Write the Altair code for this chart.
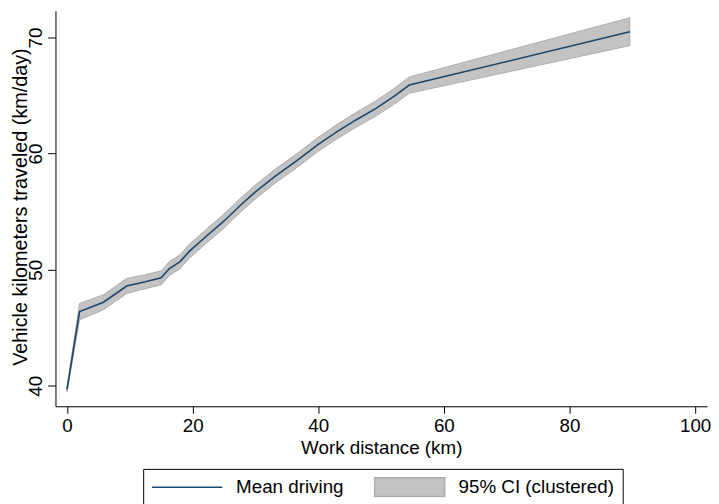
import altair as alt
import pandas as pd

# Work distance (km)
dist = [0, 2, 5.8, 9.5, 12.3, 15, 16.3, 18, 19.5, 22, 25, 27.7, 30, 33, 36.6,
        40, 43, 46, 49.2, 52, 54.5, 89.6]
# Mean driving (km/day)
mean_vkt = [39.7, 46.4, 47.2, 48.6, 48.95, 49.3, 50.1, 50.7, 51.6, 52.8, 54.2,
            55.6, 56.7, 58.0, 59.4, 60.8, 61.9, 62.9, 63.9, 64.9, 65.9, 70.5]
# 95% CI half-width
ci_half = [0.25, 0.7, 0.65, 0.65, 0.6, 0.6, 0.6, 0.6, 0.6, 0.6, 0.6,
           0.6, 0.6, 0.6, 0.6, 0.6, 0.62, 0.64, 0.66, 0.68, 0.7, 1.2]

series_names = ["Mean driving", "95% CI (clustered)"]
x_ticks = [0, 20, 40, 60, 80, 100]
y_ticks = [40, 50, 60, 70]

df = pd.DataFrame({
    "dist": dist,
    "vkt": mean_vkt,
    "lo": [m - h for m, h in zip(mean_vkt, ci_half)],
    "hi": [m + h for m, h in zip(mean_vkt, ci_half)],
})
legend_df = pd.DataFrame({"series": series_names, "dist": [None, None], "vkt": [None, None]})

FONT = "Liberation Sans"
NAVY = "#1a476f"

x_scale = alt.Scale(domain=[-1.84, 101.9], nice=False, zero=False)
y_scale = alt.Scale(domain=[38.24, 72.30], nice=False, zero=False)

x_axis = alt.Axis(values=x_ticks, title="Work distance (km)", grid=False,
                  tickSize=7, labelPadding=18, labelBaseline="alphabetic",
                  titleY=48, titleBaseline="alphabetic", titleFontSize=19)
y_axis = alt.Axis(values=y_ticks, title="Vehicle kilometers traveled (km/day)", grid=False,
                  tickSize=8, labelPadding=6, labelAngle=-90, labelAlign="center",
                  labelBaseline="alphabetic", titleAngle=-90, titleX=-29.5, titleY=198,
                  titleAlign="center", titleBaseline="alphabetic", titleFontSize=20)

band = alt.Chart(df).mark_area(color="#c3c3c3", stroke="#adadad", strokeWidth=1).encode(
    x=alt.X("dist:Q", scale=x_scale, axis=x_axis),
    y=alt.Y("lo:Q", scale=y_scale, axis=y_axis),
    y2="hi:Q",
)

line = alt.Chart(df).mark_line(color=NAVY, strokeWidth=1.6).encode(
    x=alt.X("dist:Q", scale=x_scale),
    y=alt.Y("vkt:Q", scale=y_scale),
)

line_path = "M-1,0H1"
rect_path = "M-1,-0.268H1V0.268H-1Z"

legend = alt.Legend(orient="none", legendX=88.7, legendY=463.3, direction="horizontal",
                    title=None, padding=8, strokeColor="#000000", symbolSize=5041,
                    clipHeight=21, labelOffset=13, columnPadding=30, labelFontSize=19,
                    labelFont=FONT, symbolStrokeWidth=1.5, labelLimit=400,
                    labelColor="#000000", fillColor="#ffffff")

legend_layer = alt.Chart(legend_df).mark_point(opacity=1, size=5041).encode(
    x=alt.X("dist:Q", scale=x_scale),
    y=alt.Y("vkt:Q", scale=y_scale),
    fill=alt.Fill("series:N", scale=alt.Scale(domain=series_names, range=["transparent", "#c3c3c3"]), legend=legend),
    stroke=alt.Stroke("series:N", scale=alt.Scale(domain=series_names, range=[NAVY, "#adadad"]), legend=legend),
    shape=alt.Shape("series:N", scale=alt.Scale(domain=series_names, range=[line_path, rect_path]), legend=legend),
)

chart = alt.layer(band, line, legend_layer).properties(
    width=659, height=400,
    autosize=alt.AutoSizeParams(type="none"),
    padding={"left": 48, "top": 0, "right": 4, "bottom": 96},
).configure(font=FONT).configure_view(stroke="transparent").configure_axis(
    labelFontSize=19, titleFontSize=19, labelFont=FONT, titleFont=FONT,
    labelColor="#000000", titleColor="#000000", titleFontWeight="normal",
    domainColor="#000000", tickColor="#000000", domainWidth=1, tickWidth=1,
)

chart.save("out.html", embed_options={"renderer": "svg", "actions": False})
